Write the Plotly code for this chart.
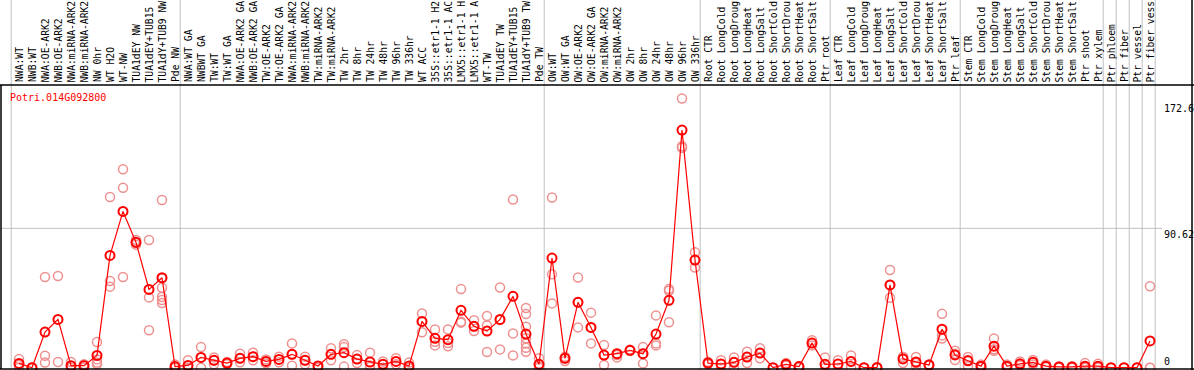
import plotly.graph_objects as go

labels = ["NWA:WT", "NWB:WT", "NWA:OE-ARK2", "NWB:OE-ARK2", "NWA:miRNA-ARK2", "NWB:miRNA-ARK2",
          "NW 0hr", "WT H2O", "WT-NW", "TUA1dEY NW", "TUA1dEY+TUB15 NW", "TUA1dY+TUB9 NW", "Pde NW",
          "NWA:WT GA", "NWBWT GA", "TW:WT", "TW:WT GA", "NWA:OE-ARK2 GA", "NWB:OE-ARK2 GA",
          "TW:OE-ARK2", "TW:OE-ARK2 GA", "NWA:miRNA-ARK2", "NWB:miRNA-ARK2", "TW:miRNA-ARK2",
          "TW:miRNA-ARK2", "TW 2hr", "TW 8hr", "TW 24hr", "TW 48hr", "TW 96hr", "TW 336hr", "WT ACC",
          "35S::etr1-1 H2O", "35S::etr1-1 ACC", "LMX5::etr1-1 H2O", "LMX5::etr1-1 ACC", "WT-TW",
          "TUA1dEY TW", "TUA1dEY+TUB15 TW", "TUA1dY+TUB9 TW", "Pde TW",
          "OW:WT", "OW:WT GA", "OW:OE-ARK2", "OW:OE-ARK2 GA", "OW:miRNA-ARK2", "OW:miRNA-ARK2",
          "OW 2hr", "OW 8hr", "OW 24hr", "OW 48hr", "OW 96hr", "OW 336hr",
          "Root CTR", "Root LongCold", "Root LongDrought", "Root LongHeat", "Root LongSalt",
          "Root ShortCold", "Root ShortDrought", "Root ShortHeat", "Root ShortSalt", "Ptr root",
          "Leaf CTR", "Leaf LongCold", "Leaf LongDrought", "Leaf LongHeat", "Leaf LongSalt",
          "Leaf ShortCold", "Leaf ShortDrought", "Leaf ShortHeat", "Leaf ShortSalt", "Ptr leaf",
          "Stem CTR", "Stem LongCold", "Stem LongDrought", "Stem LongHeat", "Stem LongSalt",
          "Stem ShortCold", "Stem ShortDrought", "Stem ShortHeat", "Stem ShortSalt", "Ptr shoot",
          "Ptr xylem", "Ptr phloem", "Ptr fiber", "Ptr vessel", "Ptr fiber vessel"]

means = [2.8, 0.0, 23.2, 31.4, 1.3, 1.3, 8.0, 73.0, 101.6, 81.5, 50.9, 58.5, 0.7,
         1.5, 6.7, 4.8, 3.0, 6.1, 7.2, 4.1, 5.4, 8.7, 4.8, 1.1, 8.7, 9.8, 5.6, 3.7,
         2.2, 4.1, 1.1, 30.1, 19.1, 18.2, 37.3, 26.9, 23.8, 31.4, 46.4, 21.9, 2.2,
         71.3, 6.1, 42.5, 26.2, 8.2, 9.1, 11.3, 9.1, 21.9, 43.8, 154.5, 70.0,
         3.0, 2.4, 3.5, 6.9, 9.5, 0.0, 2.2, 0.7, 16.0, 2.2,
         2.4, 4.1, 0.0, 0.0, 53.8, 5.7, 3.7, 1.8, 25.0, 8.3,
         4.5, 1.0, 14.0, 1.0, 2.5, 3.5, 1.0, 0.5, 0.5, 1.0,
         1.0, 0.0, 0.0, 0.0, 17.4]

replicates = [
    [5.6, 0.0, 1.7], [0.0, 0.0, 0.0], [59.0, 7.8, 3.3], [59.6, 3.7], [3.7, 0.0], [2.2, 0.0, 1.7],
    [16.7, 5.4, 3.3, 2.2], [111.0, 56.4, 52.7], [129.0, 117.0, 59.0], [81.0, 80.0, 83.0],
    [83.0, 45.7, 24.3], [109.0, 58.0, 52.0, 46.0, 44.0, 42.0], [2.0, 0.0, 0.0],
    [4.8, 0.0], [13.4, 0.0, 6.7], [6.7, 2.2, 4.8], [3.7, 2.2, 3.0], [9.1, 3.5, 6.1],
    [9.8, 4.8, 7.2], [5.4, 2.8, 4.1], [7.2, 3.5], [15.8, 1.3, 8.7], [7.2, 2.2, 4.8],
    [1.1, 0.0], [12.6, 4.8, 8.7], [15.2, 13.4, 0.7], [8.2, 3.0, 5.6], [9.8, 1.5, 0.4],
    [4.0, 0.0, 2.2], [6.1, 2.2], [3.3, 0.0, 0.0], [35.3, 23.0, 30.1], [24.9, 14.5, 16.9],
    [24.9, 13.9, 16.0], [51.1, 29.9, 29.3], [30.8, 23.8, 26.9], [33.6, 27.5, 10.2],
    [52.2, 31.0, 11.9], [109.4, 22.3, 8.0], [38.8, 34.9, 26.7, 19.1, 15.8, 13.0, 10.4],
    [6.1, 2.2, 0.0],
    [110.7, 60.7, 41.8], [7.2, 4.3, 6.1], [58.7, 26.2, 42.5], [35.8, 15.8, 26.2],
    [14.7, 1.7, 8.2], [8.2, 6.7, 9.1], [11.3, 11.0, 11.6], [13.4, 2.8, 9.1],
    [34.0, 15.8, 14.5], [51.1, 50.0, 29.5], [175.0, 144.0, 143.0], [75.0, 65.2, 70.0],
    [3.9, 2.2], [4.8, 0.0, 2.4], [6.7, 0.0, 3.5], [10.4, 3.0, 7.0], [12.6, 6.1, 9.5],
    [0.0], [3.0, 1.3], [1.0, 0.0], [17.8, 14.5, 16.0], [6.7, 0.0],
    [4.8, 0.0], [8.0, 0.0, 4.0], [0.0], [0.5], [63.5, 53.8, 45.5],
    [7.0, 3.0, 7.0], [7.0, 1.0, 3.0], [2.0, 1.5, 2.0], [35.0, 21.0, 19.0], [11.0, 5.0, 9.0],
    [7.0, 1.0, 5.0], [2.0, 0.5, 0.5], [19.0, 12.0, 11.0], [2.0, 0.5, 0.5], [4.0, 1.5, 2.0],
    [5.0, 2.0, 3.5], [2.0, 0.5, 0.5], [1.0, 0.0], [1.0, 0.0], [3.0, 0.0, 0.0],
    [2.5, 0.0, 0.5], [0.0], [0.0], [0.0], [53.0, 0.0, 0.0]]

group_starts = [0, 13, 41, 53, 63, 73, 84, 85, 86, 87, 88]
ytick_vals = [172.6, 90.62, 0]
ytick_text = ["172.6", "90.62", "0"]
title_text = "Potri.014G092800"

W, H = 1194, 370
PX = 13.0          # pixels per category
X0 = 19.0          # pixel center of first category
Y_TOP, Y_BOT = 85, 369
ZERO_PX, SCALE = 367.7, 1.538
MAX_CHARS = 14     # header strip only shows this many characters

xs = list(range(len(labels)))
rep_x, rep_y = [], []
for i, r in enumerate(replicates):
    for v in r:
        rep_x.append(i)
        rep_y.append(v)

fig = go.Figure()
fig.add_trace(go.Scatter(x=rep_x, y=rep_y, mode="markers",
                         marker=dict(symbol="circle-open", size=9, color="#ee9090",
                                     line=dict(width=1.5, color="#ee9090")),
                         hoverinfo="skip", showlegend=False, cliponaxis=False))
fig.add_trace(go.Scatter(x=xs, y=means, mode="lines+markers",
                         line=dict(color="#ff0000", width=1.2),
                         marker=dict(symbol="circle-open", size=9, color="#ff0000",
                                     line=dict(width=2, color="#ff0000")),
                         showlegend=False, cliponaxis=False))

xr = [(0 - X0) / PX, (W - X0) / PX]
yr = [(ZERO_PX - Y_BOT) / SCALE, (ZERO_PX - Y_TOP) / SCALE]

font = "DejaVu Sans Mono"
ann = []
for i, lab in enumerate(labels):
    ann.append(dict(x=i, xref="x", y=(H - 83.5) / H, yref="paper", text=lab[:MAX_CHARS].rstrip(),
                    textangle=-90, showarrow=False, xanchor="center", yanchor="bottom",
                    borderpad=0, font=dict(family=font, size=9.7, color="black")))
ann.append(dict(x=8 / W, xref="paper", y=(H - 97) / H, yref="paper", text=title_text,
                showarrow=False, xanchor="left", yanchor="middle",
                font=dict(family=font, size=10, color="#ff0000")))
for v, t in zip(ytick_vals, ytick_text):
    ann.append(dict(x=1163 / W, xref="paper", y=v, yref="y", text=t, showarrow=False,
                    xanchor="left", yanchor="bottom" if v == 0 else "top", borderpad=0,
                    font=dict(family=font, size=10, color="black")))

shapes = []
for k in group_starts:
    xv = k - 0.6
    shapes.append(dict(type="line", xref="x", yref="paper", x0=xv, x1=xv, y0=0, y1=1,
                       line=dict(color="#c0c0c0", width=1), layer="below"))
shapes.append(dict(type="line", xref="paper", yref="y", x0=0, x1=1162 / W, y0=90.62, y1=90.62,
                   line=dict(color="#c0c0c0", width=1), layer="below"))
# frame
shapes.append(dict(type="line", xref="paper", yref="paper", x0=0, x1=1,
                   y0=(H - Y_TOP) / H, y1=(H - Y_TOP) / H, line=dict(color="black", width=1.5)))
shapes.append(dict(type="line", xref="paper", yref="paper", x0=0, x1=1,
                   y0=(H - Y_BOT) / H, y1=(H - Y_BOT) / H, line=dict(color="black", width=1.5)))
shapes.append(dict(type="line", xref="paper", yref="paper", x0=1 / W, x1=1 / W,
                   y0=(H - Y_BOT) / H, y1=(H - Y_TOP) / H, line=dict(color="black", width=1.5)))
shapes.append(dict(type="line", xref="paper", yref="paper", x0=1192 / W, x1=1192 / W,
                   y0=0, y1=1, line=dict(color="black", width=1.5)))

fig.update_layout(width=W, height=H, margin=dict(l=0, r=0, t=0, b=0),
                  paper_bgcolor="white", plot_bgcolor="white",
                  xaxis=dict(range=xr, visible=False, domain=[0, 1]),
                  yaxis=dict(range=yr, visible=False, domain=[(H - Y_BOT) / H, (H - Y_TOP) / H]),
                  annotations=ann, shapes=shapes, showlegend=False)
fig.write_html("out.html", config={"displayModeBar": False},
               post_script="document.body.style.margin='0';document.body.style.overflow='hidden';")
